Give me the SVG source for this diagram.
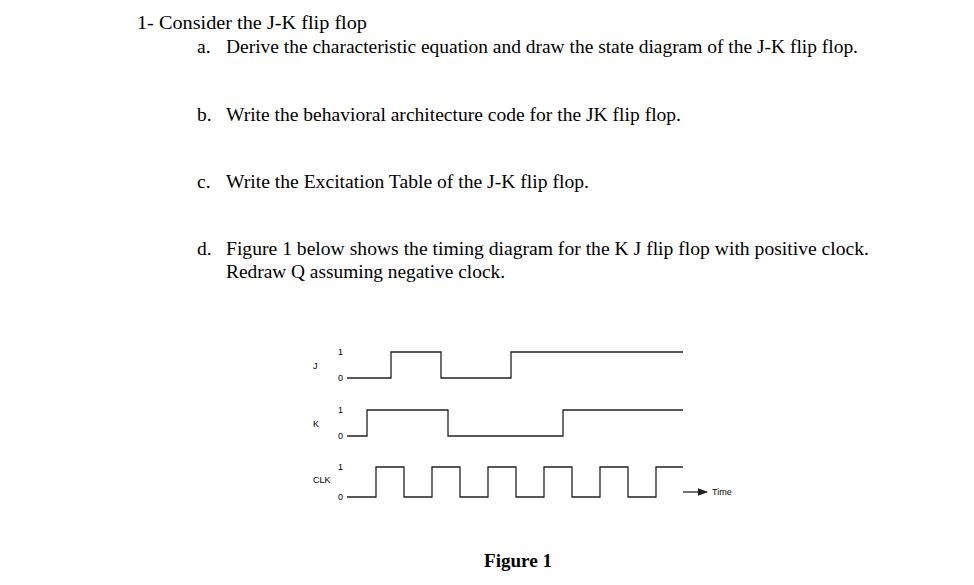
<svg xmlns="http://www.w3.org/2000/svg" width="974" height="585" viewBox="0 0 974 585">
<style>
.t{font-family:"Liberation Serif",serif;font-size:19.5px;fill:#000}
.s{font-family:"Liberation Sans",Arial,sans-serif;font-size:9px;fill:#000}
.w{fill:none;stroke:#222;stroke-width:1.3}
</style>
<defs><marker id="ar" markerWidth="8" markerHeight="6" refX="7" refY="3" orient="auto"><path d="M0,0L8,3L0,6z" fill="#222"/></marker></defs>
<rect width="974" height="585" fill="#fff"/>
<g id="text">
<text class="t" x="137" y="29" textLength="230" lengthAdjust="spacingAndGlyphs">1-  Consider the J-K flip flop</text>
<text class="t" x="197" y="53">a.</text><text class="t" x="226" y="53" textLength="632" lengthAdjust="spacingAndGlyphs">Derive the characteristic equation and draw the state diagram of the J-K flip flop.</text>
<text class="t" x="197" y="121">b.</text><text class="t" x="226" y="121" textLength="455" lengthAdjust="spacingAndGlyphs">Write the behavioral architecture code for the JK flip flop.</text>
<text class="t" x="197" y="188">c.</text><text class="t" x="226" y="188" textLength="363" lengthAdjust="spacingAndGlyphs">Write the Excitation Table of the J-K flip flop.</text>
<text class="t" x="197" y="255">d.</text><text class="t" x="226" y="255" textLength="643" lengthAdjust="spacingAndGlyphs">Figure 1 below shows the timing diagram for the K J flip flop with positive clock.</text>
<text class="t" x="226" y="278" textLength="279" lengthAdjust="spacingAndGlyphs">Redraw Q assuming negative clock.</text>
<text class="t" x="484" y="567" font-weight="bold" textLength="68" lengthAdjust="spacingAndGlyphs">Figure 1</text>
</g>
<g id="labels">
<text class="s" x="313" y="369">J</text><text class="s" x="338" y="355">1</text><text class="s" x="338" y="381">0</text>
<text class="s" x="313" y="427">K</text><text class="s" x="338" y="413">1</text><text class="s" x="338" y="439">0</text>
<text class="s" x="313" y="483">CLK</text><text class="s" x="338" y="470">1</text><text class="s" x="338" y="500">0</text>
<text class="s" x="712" y="495">Time</text>
</g>
<g id="connectors">
<path class="w" d="M347,378H391V352H441V378H511V352H683"/>
<path class="w" d="M347,436H367V410H448V436H563V410H683"/>
<path class="w" d="M347,497H376V467H404V497H432V467H460V497H488V467H516V497H544V467H572V497H600V467H628V497H656V467H683"/>
<path class="w" d="M683,492H707" marker-end="url(#ar)"/>
</g>
</svg>
